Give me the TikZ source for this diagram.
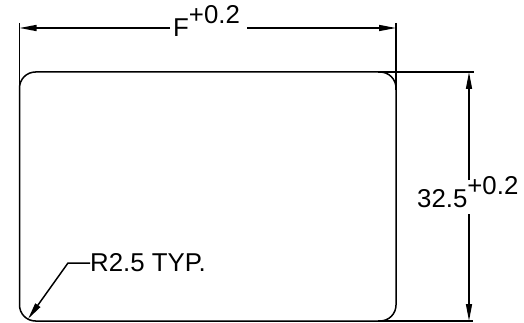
\documentclass[tikz,border=0pt]{standalone}
\usepackage{fontspec}
\setmainfont{Liberation Sans}
\usetikzlibrary{arrows.meta}
\begin{document}
\begin{tikzpicture}[x=1pt,y=-1pt,
  ln/.style={line width=1.5pt},
  dimarrow/.style={ln,-{Triangle[length=17pt,width=6pt]}},
  lbl/.style={inner sep=0pt,anchor=base west,font=\fontsize{25.8}{26}\selectfont}]
\useasboundingbox (0,0) rectangle (524,323);
% part outline
\draw[ln,rounded corners=16pt] (19.5,72) rectangle (396,321);
% extension lines
\coordinate (extLtop) at (19.5,23);
\coordinate (extLbot) at (19.5,90);
\coordinate (extRtop) at (396,23);
\coordinate (extRbot) at (396,90);
\coordinate (extTl) at (378,72);
\coordinate (extTr) at (474,72);
\coordinate (extBl) at (378,321);
\coordinate (extBr) at (473,321);
\draw[ln] (extLtop) -- (extLbot);
\draw[ln] (extRtop) -- (extRbot);
\draw[ln] (extTl) -- (extTr);
\draw[ln] (extBl) -- (extBr);
% top dimension
\node[lbl] (ftext) at (173,37) {F\raisebox{13pt}{\fontsize{25.8}{26}\selectfont +0.2}};
\coordinate (fL) at (170,28);
\coordinate (fR) at (247,28);
\coordinate (aL) at (19.5,28);
\coordinate (aR) at (396,28);
\draw[dimarrow] (fL) -- (aL);
\draw[dimarrow] (fR) -- (aR);
% right dimension
\node[lbl] (htext) at (417,207) {32.5\raisebox{13pt}{\fontsize{25.8}{26}\selectfont +0.2}};
\coordinate (vT) at (469,180);
\coordinate (vB) at (469,214);
\coordinate (aT) at (469,72);
\coordinate (aB) at (469,321);
\draw[dimarrow] (vT) -- (aT);
\draw[dimarrow] (vB) -- (aB);
% radius leader
\node[lbl,anchor=west] (rtext) at (90,263) {R2.5 TYP.};
\coordinate (knee) at (68,263);
\coordinate (tip) at (28,319);
\draw[dimarrow] (rtext.west) -- (knee) -- (tip);
\end{tikzpicture}
\end{document}
